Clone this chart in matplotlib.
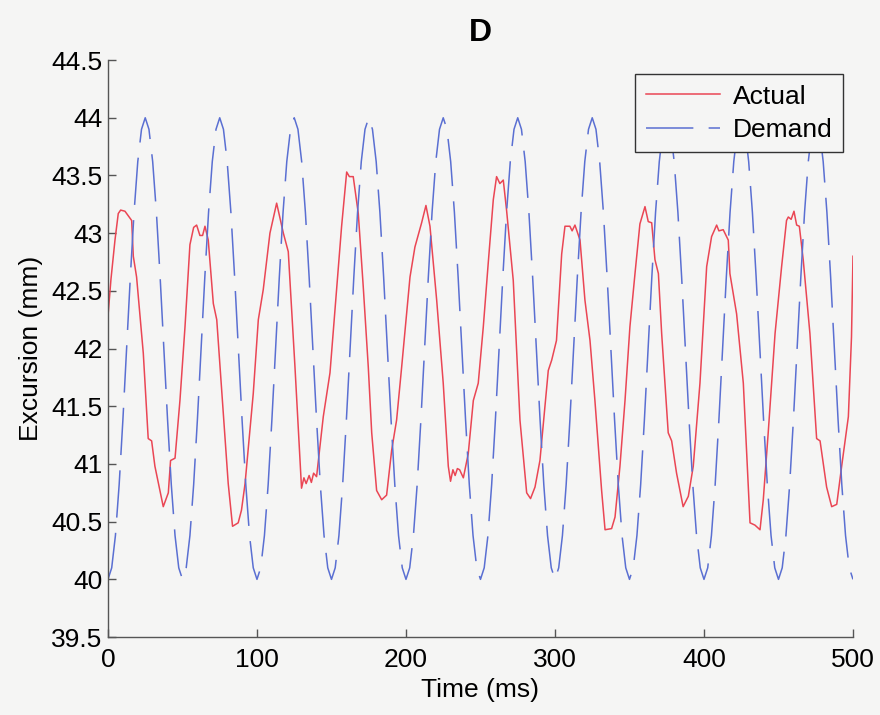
import matplotlib
matplotlib.use("Agg")
import matplotlib.pyplot as plt

# ---- data ----
actual_t = [0, 2, 4.7, 6.9, 8.5, 11.4, 15.9, 17, 19.2, 23.7, 27, 29.3, 31.5, 37.1, 40.5, 42, 45,
            48.3, 51.7, 55, 57.5, 59.5, 61.7, 63.5, 65.1, 67.3, 70.7, 73, 80.7, 83.6, 87.4, 89.6,
            92, 97.5, 100.9, 104.2, 108.7, 113.2, 117.7, 121, 125.5, 129.9, 131.5, 133, 135,
            136.5, 138, 140, 144.5, 149, 156.8, 160.2, 162, 164.6, 168, 171.3, 174.7, 177,
            180.3, 183.7, 187, 190.4, 193.7, 197.1, 202.7, 206, 210.5, 213.4, 216.1, 220.6,
            225, 228.4, 229.9, 231.5, 233, 234.5, 236, 238.5, 241.8, 245.2, 248.5, 251.9,
            255.2, 258.6, 260.8, 263, 265.3, 267.5, 272, 276.5, 281, 283.6, 286.6, 289.9,
            295.5, 297.8, 301, 304.5, 306.7, 310, 311.5, 313.4, 316.8, 320.1, 323.5, 326.8,
            331.3, 333.6, 338, 340.3, 343.6, 347, 350.3, 353.7, 357, 360.4, 362.6, 364.9,
            367.1, 369.4, 371.6, 376, 378.3, 381.6, 386, 389.5, 392.8, 397.3, 401.8, 405.1,
            408.5, 410, 412.9, 416.3, 417.4, 421.9, 426.4, 430.9, 434.2, 437.6, 439.8, 443.1,
            447.7, 452.1, 455.4, 456.6, 458.5, 460.4, 462.2, 464, 466.6, 471.1, 475.6, 477.9,
            482.3, 485.7, 489.1, 492.4, 496.9, 499, 500]
actual_v = [42.28, 42.6, 42.94, 43.17, 43.2, 43.19, 43.11, 42.8, 42.62, 41.96, 41.22, 41.2, 40.98,
            40.63, 40.75, 41.03, 41.05, 41.55, 42.19, 42.9, 43.05, 43.07, 42.98, 42.98, 43.06,
            42.94, 42.39, 42.25, 40.83, 40.46, 40.49, 40.6, 40.83, 41.61, 42.25, 42.51, 43.0,
            43.26, 43.0, 42.84, 41.84, 40.79, 40.88, 40.83, 40.9, 40.84, 40.92, 40.89, 41.41,
            41.79, 43.06, 43.53, 43.49, 43.49, 43.17, 42.54, 41.84, 41.27, 40.77, 40.69, 40.73,
            41.12, 41.38, 41.84, 42.62, 42.88, 43.09, 43.24, 43.06, 42.42, 41.70, 40.98, 40.85,
            40.95, 40.9, 40.96, 40.95, 40.88, 41.09, 41.55, 41.70, 42.19, 42.74, 43.29, 43.49,
            43.43, 43.46, 43.2, 42.59, 41.38, 40.75, 40.70, 40.8, 41.03, 41.81, 41.9, 42.07,
            42.82, 43.06, 43.06, 43.02, 43.07, 42.94, 42.42, 42.07, 41.55, 40.77, 40.43, 40.44,
            40.54, 40.98, 41.55, 42.19, 42.65, 43.08, 43.23, 43.1, 43.09, 42.77, 42.65, 42.13,
            41.27, 41.2, 40.92, 40.63, 40.72, 40.98, 41.70, 42.71, 42.97, 43.07, 43.02, 43.03,
            42.94, 42.65, 42.3, 41.70, 40.49, 40.47, 40.43, 40.69, 41.27, 42.13, 42.71, 43.11,
            43.14, 43.12, 43.19, 43.07, 43.06, 42.77, 42.13, 41.22, 41.2, 40.8, 40.63, 40.65,
            40.98, 41.41, 42.1, 42.8]

demand_t = [i * 2.5 for i in range(201)]
demand_v = [
    40.00, 40.10, 40.38, 40.82, 41.38, 42.00, 42.62, 43.18, 43.62, 43.90, 44.00, 43.90, 43.62, 43.18, 42.62, 42.00, 41.38, 40.82, 40.38, 40.10,
    40.00, 40.10, 40.38, 40.82, 41.38, 42.00, 42.62, 43.18, 43.62, 43.90, 44.00, 43.90, 43.62, 43.18, 42.62, 42.00, 41.38, 40.82, 40.38, 40.10,
    40.00, 40.10, 40.38, 40.82, 41.38, 42.00, 42.62, 43.18, 43.62, 43.90, 44.00, 43.90, 43.62, 43.18, 42.62, 42.00, 41.38, 40.82, 40.38, 40.10,
    40.00, 40.10, 40.38, 40.82, 41.38, 42.00, 42.62, 43.18, 43.62, 43.90, 44.00, 43.90, 43.62, 43.18, 42.62, 42.00, 41.38, 40.82, 40.38, 40.10,
    40.00, 40.10, 40.38, 40.82, 41.38, 42.00, 42.62, 43.18, 43.62, 43.90, 44.00, 43.90, 43.62, 43.18, 42.62, 42.00, 41.38, 40.82, 40.38, 40.10,
    40.00, 40.10, 40.38, 40.82, 41.38, 42.00, 42.62, 43.18, 43.62, 43.90, 44.00, 43.90, 43.62, 43.18, 42.62, 42.00, 41.38, 40.82, 40.38, 40.10,
    40.00, 40.10, 40.38, 40.82, 41.38, 42.00, 42.62, 43.18, 43.62, 43.90, 44.00, 43.90, 43.62, 43.18, 42.62, 42.00, 41.38, 40.82, 40.38, 40.10,
    40.00, 40.10, 40.38, 40.82, 41.38, 42.00, 42.62, 43.18, 43.62, 43.90, 44.00, 43.90, 43.62, 43.18, 42.62, 42.00, 41.38, 40.82, 40.38, 40.10,
    40.00, 40.10, 40.38, 40.82, 41.38, 42.00, 42.62, 43.18, 43.62, 43.90, 44.00, 43.90, 43.62, 43.18, 42.62, 42.00, 41.38, 40.82, 40.38, 40.10,
    40.00, 40.10, 40.38, 40.82, 41.38, 42.00, 42.62, 43.18, 43.62, 43.90, 44.00, 43.90, 43.62, 43.18, 42.62, 42.00, 41.38, 40.82, 40.38, 40.10,
    40.00,
]

x_ticks = [0, 100, 200, 300, 400, 500]
y_ticks = [39.5, 40, 40.5, 41, 41.5, 42, 42.5, 43, 43.5, 44, 44.5]
y_tick_labels = ["39.5", "40", "40.5", "41", "41.5", "42", "42.5", "43", "43.5", "44", "44.5"]

title = "D"
x_label = "Time (ms)"
y_label = "Excursion (mm)"

# ---- drawing ----
plt.rcParams["font.family"] = ["Liberation Sans", "DejaVu Sans"]

bg = "#f5f5f4"
fig = plt.figure(figsize=(8.8, 7.15), dpi=100, facecolor=bg)
ax = fig.add_axes([0.1227, 0.109, 0.8466, 0.807])
ax.set_facecolor(bg)

ax.plot(actual_t, actual_v, color="#ea4654", lw=1.1, label="Actual")
ax.plot(demand_t, demand_v, color="#5a6fd2", lw=1.1, dashes=(31, 10), label="Demand")

ax.set_xlim(0, 500)
ax.set_ylim(39.5, 44.5)
ax.set_xticks(x_ticks)
ax.set_yticks(y_ticks)
ax.set_yticklabels(y_tick_labels)

for s in ("top", "right"):
    ax.spines[s].set_visible(False)
for s in ("left", "bottom"):
    ax.spines[s].set_color("#555555")
    ax.spines[s].set_linewidth(1.0)

ax.tick_params(direction="in", length=6, width=1.0, color="#555555",
               labelsize=19, labelcolor="black")
ax.tick_params(axis="x", pad=8)
ax.tick_params(axis="y", pad=4)

ax.set_xlabel(x_label, fontsize=19, labelpad=4)
ax.set_ylabel(y_label, fontsize=19, labelpad=6)
ax.set_title(title, fontsize=23, fontweight="bold", pad=14)

leg = ax.legend(loc="upper right", bbox_to_anchor=(0.994, 0.985), fontsize=19,
                frameon=True, fancybox=False, edgecolor="#333333",
                facecolor=bg, framealpha=1.0, handlelength=2.8,
                borderpad=0.4, labelspacing=0.35, handletextpad=0.5,
                borderaxespad=0.2)
leg.get_frame().set_linewidth(1.0)

fig.savefig("out.png", dpi=100, facecolor=bg)
